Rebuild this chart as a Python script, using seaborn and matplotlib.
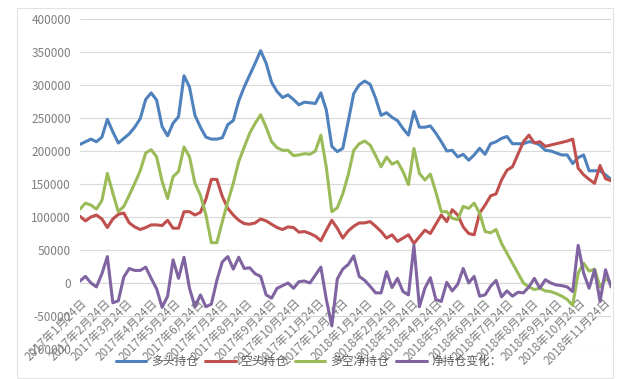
import matplotlib
matplotlib.use("Agg")
import matplotlib.pyplot as plt
import matplotlib.dates as mdates
from matplotlib.ticker import FuncFormatter, MultipleLocator
from matplotlib.transforms import ScaledTranslation
from matplotlib.patches import Rectangle
from matplotlib.lines import Line2D
import pandas as pd
import seaborn as sns

# weekly report dates (Tuesdays)
dates = pd.date_range("2017-01-24", periods=98, freq="7D")

long_pos = [
    210000, 214000, 218000, 214000, 221000, 248000, 229000, 212000, 219000, 226000, 236000, 249000, 278000, 288000, 277000, 237000, 223000,
    242000, 252000, 314000, 297000, 254000, 236000, 221000, 218000, 218000, 220000, 240000, 246000, 276000, 297000, 315000, 333000, 352000,
    333000, 304000, 290000, 281000, 285000, 278000, 270000, 274000, 273000, 272000, 288000, 262000, 207000, 199000, 204000, 245000, 287000,
    300000, 306000, 301000, 280000,
    254000, 258000, 251000, 246000, 234000, 224000, 260000, 236000, 236000, 238000, 227000, 214000, 200000, 201000, 191000, 195000, 186000,
    194000, 204000, 195000, 211000, 214000, 219000, 222000, 211000, 211000,
    211000, 214000, 213000, 209000, 201000, 200000, 197000, 194000, 194000, 181000, 190000, 194000, 170000, 170000, 170000, 164000, 157000,
]

short_pos = [
    101000, 94000, 100000, 103000, 97000, 84000, 97000, 104000, 106000, 91000, 85000, 81000, 84000, 88000, 88000, 87000, 95000,
    83000, 83000, 108000, 108000, 103000, 107000, 127000, 157000, 157000, 131000, 113000, 103000, 95000, 90000, 89000, 91000, 97000,
    94000, 89000, 84000, 81000,
    85000, 84000, 77000, 78000, 75000, 71000, 64000, 80000, 95000, 83000, 68000, 79000, 86000, 91000, 91000, 93000, 86000, 78000,
    68000, 73000, 63000, 68000, 73000, 60000,
    70000, 80000, 75000, 89000, 103000, 93000, 111000, 103000, 85000, 75000, 73000, 106000, 118000, 132000, 135000, 156000, 171000,
    176000, 195000, 214000,
    224000, 212000, 214000, 207000, 209000, 211000, 213000, 215000, 218000, 174000, 164000, 157000, 151000, 178000, 158000, 155000,
]

net_pos = [
    112000, 121000, 118000, 112000, 125000, 166000, 136000, 108000, 116000, 133000, 151000, 170000, 197000, 202000, 191000, 154000, 128000,
    161000, 169000, 206000, 191000, 151000, 133000, 103000, 61000, 61000, 93000, 123000, 151000, 184000, 206000, 227000, 242000, 255000,
    236000, 214000, 205000, 201000, 201000, 193000, 194000, 196000, 195000, 200000, 224000, 175000, 108000, 114000, 135000, 164000,
    201000, 211000, 215000, 209000, 193000, 176000, 191000, 180000, 184000, 169000, 149000, 204000, 166000, 156000, 165000,
    138000, 108000, 108000, 98000, 96000, 116000, 113000, 121000, 106000, 78000, 76000, 81000, 60000, 45000, 30000, 15000,
    0, -6000, -10000, -8000, -12000, -13000, -16000, -20000, -25000, -34000, 15000, 30000, 18000, 21000, -6000, 6000, 1000,
]

net_change = [
    3000, 10000, 0, -6000, 14000, 40000, -30000, -27000, 9000, 22000, 19000, 19000, 24000, 7000, -9000, -37000, -20000,
    35000, 7000, 39000, -8000, -36000, -18000, -36000, -32000, 4000, 32000, 40000, 21000, 39000, 22000, 23000, 14000, 10000,
    -18000, -23000, -8000, -4000, 0, -8000, 2000, 3000, 0, 12000, 24000, -25000, -65000, 6000, 21000, 28000,
    41000, 10000, 4000, -5000, -15000, -15000, 17000, -7000, 7000, -13000, -18000,
    57000, -36000, -8000, 8000, -25000, -28000, 1000, -12000, -2000, 22000, 0, 10000, -20000, -18000, -5000, 4000, -21000, -12000,
    -20000, -14000,
    -15000, -6000, 7000, -8000, 5000, 0, -3000, -4000, -6000, -13000, 57000, 15000, -8000, 20000, -28000, 20000, -6000,
]

series_names = ["多头持仓", "空头持仓", "多空净持仓", "净持仓变化："]
colors = ["#4F81BD", "#C0504D", "#9BBB59", "#8064A2"]

df = pd.DataFrame({
    "日期": dates,
    series_names[0]: long_pos,
    series_names[1]: short_pos,
    series_names[2]: net_pos,
    series_names[3]: net_change,
}).melt(id_vars="日期", var_name="系列", value_name="持仓")

sns.set_theme(style="white")
plt.rcParams["font.family"] = ["Noto Sans CJK SC", "DejaVu Sans"]
plt.rcParams["axes.unicode_minus"] = False
plt.rcParams["lines.solid_joinstyle"] = "round"
plt.rcParams["lines.solid_capstyle"] = "round"

fig = plt.figure(figsize=(6.25, 3.79), dpi=100)
ax = fig.add_axes([0.128, 0.0792, 0.8496, 0.8707])

sns.lineplot(data=df, x="日期", y="持仓", hue="系列", hue_order=series_names,
             palette=colors, linewidth=2.2, legend=False, ax=ax)

ax.set_ylim(-100000, 400000)
ax.yaxis.set_major_locator(MultipleLocator(50000))
ax.yaxis.set_major_formatter(FuncFormatter(lambda v, p: f"{int(round(v))}"))
ax.set_xlim(dates[0], dates[-1])
ax.xaxis.set_major_locator(mdates.MonthLocator(bymonthday=24))


def date_label(v, p):
    d = mdates.num2date(v)
    return f"{d.year}年{d.month}月{d.day}日"


ax.xaxis.set_major_formatter(FuncFormatter(date_label))

ax.set_xlabel("")
ax.set_ylabel("")
ax.grid(axis="y", color="#D9D9D9", lw=0.8)
ax.grid(axis="x", visible=False)
ax.set_axisbelow(True)
for s in ["left", "top", "right"]:
    ax.spines[s].set_visible(False)
ax.spines["bottom"].set_position(("data", 0))
ax.spines["bottom"].set_color("#D9D9D9")
ax.spines["bottom"].set_linewidth(0.8)
ax.spines["bottom"].set_zorder(0.5)

ax.tick_params(axis="y", length=0, pad=6.5, labelsize=8.5, labelcolor="#7F7F7F")
ax.tick_params(axis="x", length=0, pad=13, labelsize=8.5, labelcolor="#7F7F7F")

shift = ScaledTranslation(5 / 100, 0, fig.dpi_scale_trans)
for lab in ax.get_xticklabels():
    lab.set_rotation(45)
    lab.set_ha("right")
    lab.set_va("center")
    lab.set_rotation_mode("anchor")
    lab.set_transform(lab.get_transform() + shift)

handles = [Line2D([], [], color=c, lw=2.2) for c in colors]
fig.legend(handles, series_names, loc="center", bbox_to_anchor=(0.494, 0.045),
           ncol=4, frameon=False, fontsize=8.5, handlelength=2.6,
           handletextpad=0.4, columnspacing=0.6, labelcolor="#595959")

fig.patches.append(Rectangle((0.0272, 0.0026), 0.954, 0.976, transform=fig.transFigure,
                             fill=False, edgecolor="#E3E3E3", lw=0.8))

fig.savefig("out.png", dpi=100)
